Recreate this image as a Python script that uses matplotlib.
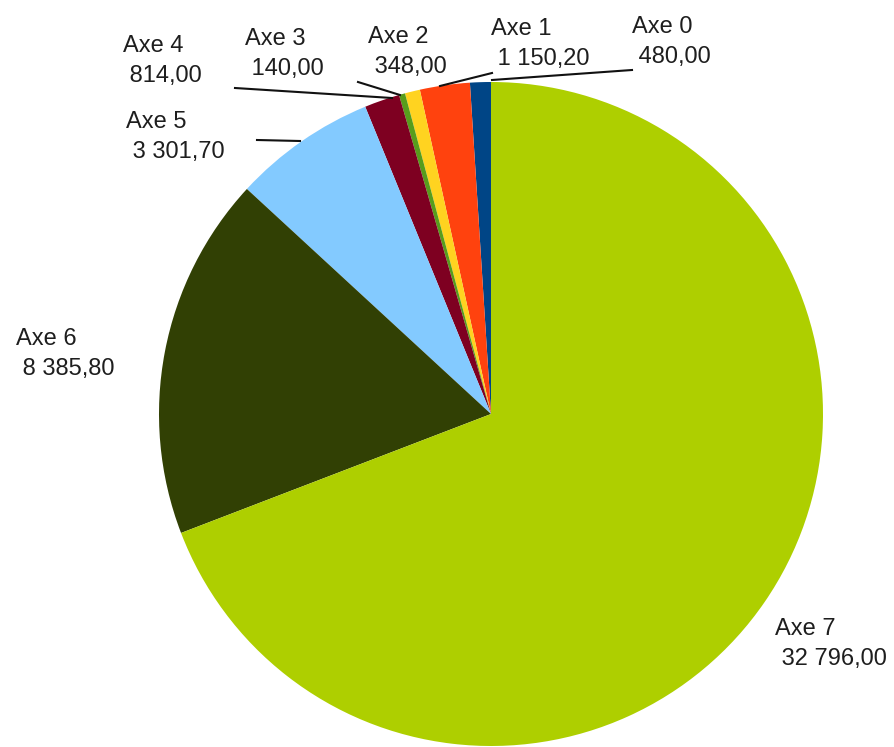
import matplotlib
matplotlib.use("Agg")
import matplotlib.pyplot as plt

# -----------------------------
# DATA
# -----------------------------
labels = ["Axe 0", "Axe 1", "Axe 2", "Axe 3", "Axe 4", "Axe 5", "Axe 6", "Axe 7"]
values = [480.00, 1150.20, 348.00, 140.00, 814.00, 3301.70, 8385.80, 32796.00]
colors = ["#004586", "#ff420e", "#ffd320", "#579d1c",
          "#7e0021", "#83caff", "#314004", "#aecf00"]

# label anchors (pixels: left x, baseline of first line)
label_pos = [(632, 33), (491, 35), (368, 43), (245, 45),
             (123, 52), (126, 128), (16, 345), (775, 635)]
LINE_STEP = 30  # px between the two label lines

# leader lines (pixels), None when no line
leaders = [[(492, 80), (632, 70)],
           [(440, 86), (492, 73)],
           None,
           [(358, 82), (400, 95)],
           [(235, 88), (392, 98)],
           [(257, 140), (300, 141)],
           None,
           None]

W, H = 894, 747


def fmt(v):
    return f"{v:,.2f}".replace(",", " ").replace(".", ",")


fig = plt.figure(figsize=(W / 100, H / 100), dpi=100)
fig.patch.set_facecolor("white")

# pie axes: center (491, 414), radius ~332 px
cx, cy, r = 491, 414, 332
ax = fig.add_axes([(cx - r) / W, (H - cy - r) / H, 2 * r / W, 2 * r / H])
ax.pie(values, colors=colors, startangle=90, counterclock=True,
       wedgeprops=dict(linewidth=0))
ax.set_xlim(-1, 1)
ax.set_ylim(-1, 1)
ax.set_aspect("equal")
ax.set_axis_off()

# overlay in pixel coordinates for labels and leader lines
ov = fig.add_axes([0, 0, 1, 1], facecolor="none")
ov.set_xlim(0, W)
ov.set_ylim(H, 0)
ov.set_axis_off()

txt = dict(ha="left", va="baseline", fontsize=17,
           family="Liberation Sans", color="#1e1e1e")
for name, v, (x, y), ln in zip(labels, values, label_pos, leaders):
    ov.text(x, y, name, **txt)
    ov.text(x, y + LINE_STEP, " " + fmt(v), **txt)
    if ln is not None:
        ov.plot([ln[0][0], ln[1][0]], [ln[0][1], ln[1][1]],
                color="#111111", linewidth=1.5)

fig.savefig("out.png", dpi=100)
